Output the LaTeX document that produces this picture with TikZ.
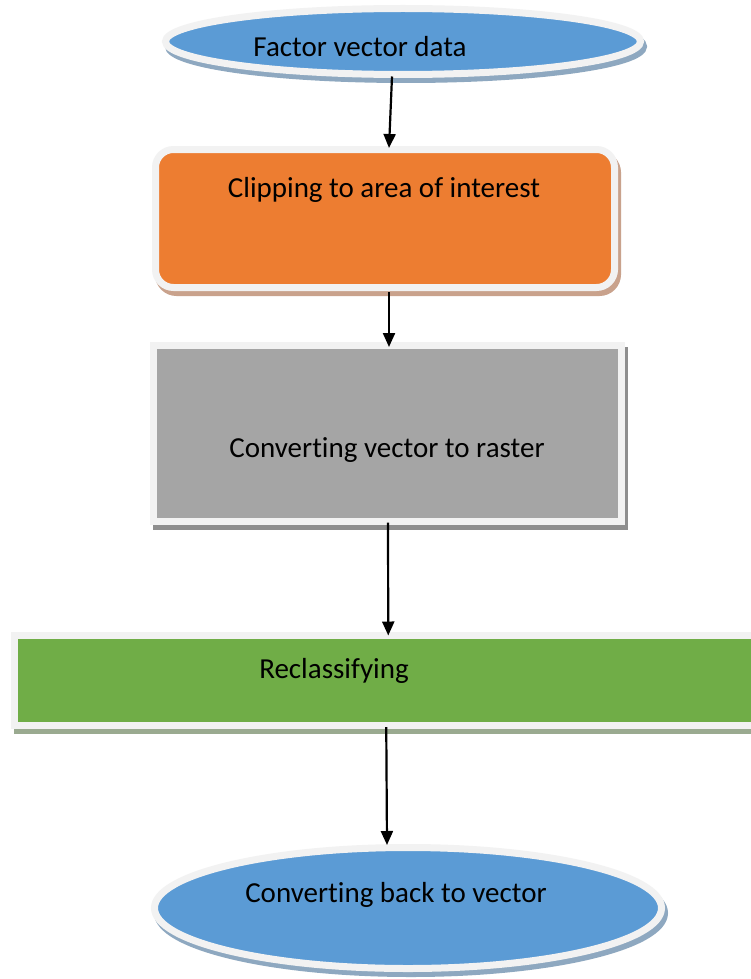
\documentclass[tikz,border=0pt]{standalone}
\usepackage{fontspec}
\setmainfont[Ligatures={NoCommon,NoRare,NoContextual}]{Carlito}
\usetikzlibrary{shapes.geometric,arrows.meta}
\definecolor{cblue}{HTML}{5B9BD5}
\definecolor{corange}{HTML}{ED7D31}
\definecolor{cgray}{HTML}{A5A5A5}
\definecolor{cgreen}{HTML}{70AD47}
\definecolor{cborder}{HTML}{F2F2F2}
\definecolor{sblue}{HTML}{8EA8C0}
\definecolor{sorange}{HTML}{C9A28C}
\definecolor{sgray}{HTML}{8E8E8E}
\definecolor{sgreen}{HTML}{9AAA90}
\tikzset{
  shp/.style={line width=7pt, draw=cborder, outer sep=0pt, inner sep=0pt},
  shd/.style={line width=7pt, outer sep=0pt, inner sep=0pt},
  lbl/.style={font=\fontsize{29}{34}\selectfont, text=black, anchor=base, inner sep=0pt},
  arr/.style={line width=2.2pt, black, -{Triangle[width=12pt,length=14pt]}}
}
\begin{document}
\begin{tikzpicture}[x=1pt,y=-1pt]
\useasboundingbox (0,0) rectangle (751,979);
\clip (0,0) rectangle (751,979);
\fill[white] (0,0) rectangle (751,979);
% shadows
\node[shd, ellipse, draw=sblue, fill=sblue, minimum width=475pt, minimum height=66pt] (s1) at (406,46.5) {};
\node[shd, rectangle, rounded corners=18pt, draw=sorange, fill=sorange, minimum width=459pt, minimum height=138pt] (s2) at (388,223.5) {};
\node[shd, rectangle, draw=sgray, fill=sgray, minimum width=468pt, minimum height=176pt] (s3) at (390,438.5) {};
\node[shd, rectangle, draw=sgreen, fill=sgreen, minimum width=755.5pt, minimum height=90pt] (s4) at (395.25,685.5) {};
\node[shd, ellipse, draw=sblue, fill=sblue, minimum width=507pt, minimum height=121pt] (s5) at (411,913) {};
% shapes
\node[shp, ellipse, fill=cblue, minimum width=475pt, minimum height=66pt] (e1) at (403,41.5) {};
\node[shp, rectangle, rounded corners=18pt, fill=corange, minimum width=459pt, minimum height=138pt] (r1) at (385,218.5) {};
\node[shp, rectangle, fill=cgray, minimum width=468pt, minimum height=176pt] (r2) at (387,433.5) {};
\node[shp, rectangle, fill=cgreen, minimum width=755.5pt, minimum height=90pt] (r3) at (392.25,680.5) {};
\node[shp, ellipse, fill=cblue, minimum width=507pt, minimum height=121pt] (e2) at (408,908) {};
% labels
\node[lbl] (t1) at (360,57) {Factor vector data};
\node[lbl] (t2) at (384,197) {Clipping to area of interest};
\node[lbl] (t3) at (387,457) {Converting vector to raster};
\node[lbl] (t4) at (334,678) {Reclassifying};
\node[lbl] (t5) at (396,902) {Converting back to vector};
% arrows
\draw[arr] ([xshift=-11pt,yshift=-2pt]e1.south) -- ([xshift=4pt,yshift=1.5pt]r1.north);
\draw[arr] ([xshift=4pt,yshift=-4.5pt]r1.south) -- ([xshift=2pt,yshift=-1.5pt]r2.north);
\draw[arr] ([xshift=1pt,yshift=-1pt]r2.south) -- ([xshift=-4pt,yshift=0pt]r3.north);
\draw[arr] ([xshift=-6pt,yshift=-1.5pt]r3.south) -- ([xshift=-21pt,yshift=2.5pt]e2.north);
\end{tikzpicture}
\end{document}
